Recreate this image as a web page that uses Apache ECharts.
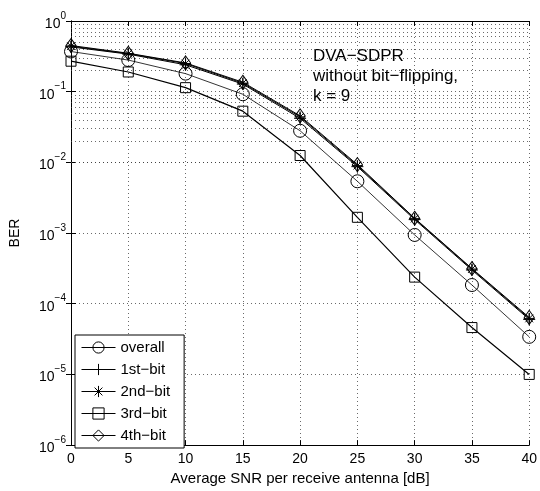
<!DOCTYPE html>
<html>
<head>
<meta charset="utf-8">
<script src="https://cdn.jsdelivr.net/npm/echarts@6/dist/echarts.min.js"></script>
<style>html,body{margin:0;padding:0;background:#fff}#c{width:540px;height:491px}</style>
</head>
<body>
<div id="c"></div>
<script>
var snr = [0, 5, 10, 15, 20, 25, 30, 35, 40];
var xTicks = [0, 5, 10, 15, 20, 25, 30, 35, 40];
var yExponents = [0, -1, -2, -3, -4, -5, -6];
var overall = [0.37, 0.28, 0.18, 0.092, 0.028, 0.0054, 0.00094, 0.000184, 3.4e-5];
var bit1 = [0.43, 0.34, 0.24, 0.128, 0.042, 0.0087, 0.00155, 0.00030, 6.0e-5];
var bit2 = [0.44, 0.345, 0.25, 0.132, 0.044, 0.0090, 0.00160, 0.00031, 6.2e-5];
var bit3 = [0.27, 0.19, 0.114, 0.053, 0.0125, 0.00167, 0.000238, 4.6e-5, 1.0e-5];
var bit4 = [0.45, 0.35, 0.255, 0.136, 0.0455, 0.0093, 0.00162, 0.000315, 6.4e-5];
var names = ['overall', '1st\u2212bit', '2nd\u2212bit', '3rd\u2212bit', '4th\u2212bit'];
var annotation = ['DVA\u2212SDPR', 'without bit\u2212flipping,', 'k = 9'];

var FONT = '"Liberation Sans", Arial, Helvetica, sans-serif';
var gridDot = {type: [1, 3], color: '#444', width: 0.8};

var minorVals = [];
for (var e = -6; e < 0; e++) for (var m = 2; m <= 9; m++) minorVals.push({yAxis: m * Math.pow(10, e)});

function pair(arr) { return arr.map(function (v, i) { return [snr[i], v]; }); }

var markerStyle = {color: 'rgba(0,0,0,0)', borderColor: '#000', borderWidth: 1};
function mkSeries(name, data, symbol, size, lw) {
  return {
    name: name, type: 'line', data: pair(data), symbol: symbol, symbolSize: size,
    showAllSymbol: true, xAxisIndex: 0, yAxisIndex: 0,
    lineStyle: {color: '#000', width: lw}, itemStyle: markerStyle,
    emphasis: {disabled: true}, animation: false, z: 5
  };
}

var chart = echarts.init(document.getElementById('c'), null, {renderer: 'canvas'});
var option = {
  animation: false,
  textStyle: {fontFamily: FONT},
  grid: {left: 70.7, right: 9.3, top: 21, bottom: 42, containLabel: false},
  xAxis: [{
    type: 'value', min: 0, max: 40, interval: 5, position: 'bottom',
    name: 'Average SNR per receive antenna [dB]', nameLocation: 'middle', nameGap: 24,
    nameTextStyle: {fontSize: 15, color: '#000', fontFamily: FONT},
    axisLine: {lineStyle: {color: '#000', width: 1}},
    axisTick: {inside: true, length: 5, lineStyle: {color: '#000'}},
    axisLabel: {fontSize: 14, color: '#000', margin: 7, fontFamily: FONT},
    splitLine: {show: true, lineStyle: gridDot}
  }, {
    type: 'value', min: 0, max: 40, interval: 5, position: 'top',
    axisLine: {show: true, lineStyle: {color: '#000', width: 1}},
    axisTick: {inside: true, length: 5, lineStyle: {color: '#000'}},
    axisLabel: {show: false}, splitLine: {show: false}
  }],
  yAxis: [{
    type: 'log', logBase: 10, min: 1e-6, max: 1, interval: 1, position: 'left',
    name: 'BER', nameLocation: 'middle', nameGap: 49, nameRotate: 90,
    nameTextStyle: {fontSize: 14, color: '#000', fontFamily: FONT},
    axisLine: {show: true, lineStyle: {color: '#000', width: 1}},
    axisTick: {inside: true, length: 5, lineStyle: {color: '#000'}},
    axisLabel: {
      margin: 5, color: '#000',
      formatter: function (v) {
        var ex = Math.round(Math.log10(v));
        return '{b|10}{s|' + (ex < 0 ? '\u2212' + (-ex) : ex) + '}';
      },
      rich: {
        b: {fontSize: 14, fontFamily: FONT, color: '#000', verticalAlign: 'bottom', lineHeight: 20},
        s: {fontSize: 10, fontFamily: FONT, color: '#000', verticalAlign: 'top', lineHeight: 12}
      }
    },
    splitLine: {show: true, lineStyle: gridDot}
  }, {
    type: 'log', logBase: 10, min: 1e-6, max: 1, interval: 1, position: 'right',
    axisLine: {show: true, lineStyle: {color: '#000', width: 1}},
    axisTick: {inside: true, length: 5, lineStyle: {color: '#000'}},
    axisLabel: {show: false}, splitLine: {show: false}
  }],
  legend: {
    orient: 'vertical', left: 75, top: 335,
    data: names,
    itemWidth: 34, itemHeight: 14, itemGap: 7,
    padding: [5, 14, 5, 6],
    backgroundColor: '#fff', borderColor: '#000', borderWidth: 1,
    lineStyle: {width: 1, color: '#000'},
    itemStyle: {color: 'rgba(0,0,0,0)', borderColor: '#000', borderWidth: 1},
    textStyle: {fontSize: 15, color: '#000', fontFamily: FONT},
    selectedMode: false
  },
  series: [
    {
      name: 'grid', type: 'line', data: [], xAxisIndex: 0, yAxisIndex: 0, silent: true, z: 1,
      markLine: {silent: true, symbol: ['none', 'none'], label: {show: false},
        lineStyle: gridDot, data: minorVals, animation: false}
    },
    mkSeries(names[0], overall, 'circle', 13, 0.8),
    mkSeries(names[1], bit1, 'path://M5,0L5,10M0,5L10,5', 12, 1),
    mkSeries(names[2], bit2, 'path://M5,0L5,10M0,5L10,5M1.5,1.5L8.5,8.5M8.5,1.5L1.5,8.5', 11, 1),
    mkSeries(names[3], bit3, 'rect', 10, 1.2),
    mkSeries(names[4], bit4, 'diamond', [10, 14], 1)
  ],
  graphic: [{
    type: 'group', left: 304, top: 29, z: 10,
    children: [
      {type: 'rect', shape: {x: 0, y: 0, width: 183, height: 85}, style: {fill: '#fff'}},
      {type: 'text', x: 9, y: 17, style: {text: annotation.join('\n'), font: '17px ' + FONT, fill: '#000', lineHeight: 20}}
    ]
  }]
};
chart.setOption(option);
</script>
</body>
</html>
